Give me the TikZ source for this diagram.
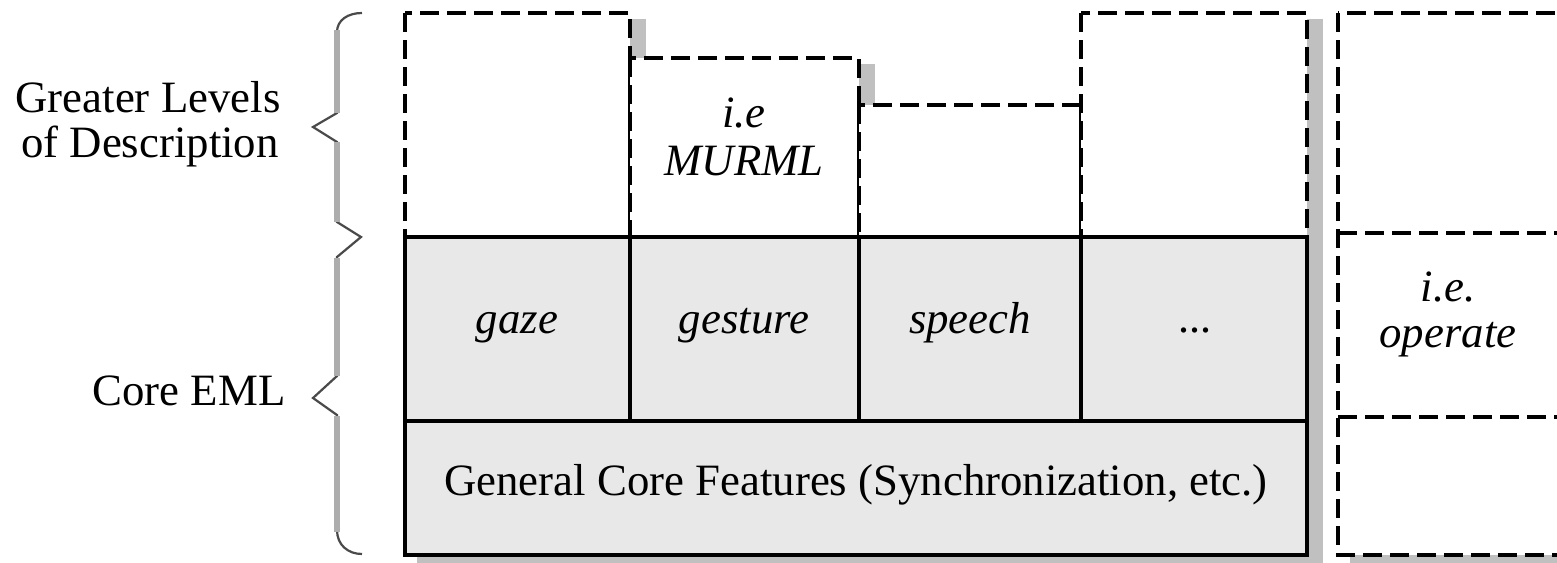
\documentclass[tikz,border=0pt]{standalone}
\usepackage{fontspec}
\setmainfont{Liberation Serif}
\definecolor{corefill}{HTML}{E8E8E8}
\definecolor{shadowgray}{HTML}{C0C0C0}
\definecolor{bracegray}{HTML}{ADADAD}
\definecolor{bracedark}{HTML}{4A4A4A}
\begin{document}
\begin{tikzpicture}[x=1pt,y=-1pt,
  dbox/.style={draw=black,line width=4pt,dash pattern=on 19pt off 8pt,fill=white},
  dline/.style={draw=black,line width=4pt,dash pattern=on 19pt off 8pt},
  sbox/.style={draw=black,line width=4pt,fill=corefill},
  sline/.style={draw=black,line width=4pt},
  shad/.style={fill=shadowgray},
  lbl/.style={font=\fontsize{44.8}{48}\selectfont,inner sep=0pt,anchor=base},
  ilbl/.style={lbl,font=\fontsize{44.8}{48}\selectfont\itshape},
  braceline/.style={draw=bracedark,line width=2.2pt,line join=miter},
  bracebar/.style={draw=bracegray,line width=6pt}
]
\useasboundingbox (0,0) rectangle (1557,562);
\clip (0,0) rectangle (1557,562);
\fill[white] (0,0) rectangle (1557,562);

% shadows
\begin{scope}[shift={(14,8)}]
  \fill[shad] (403,11) rectangle (632,239);
  \fill[shad] (628,56) rectangle (861,239);
  \fill[shad] (857,103) rectangle (1083,239);
  \fill[shad] (1079,11) rectangle (1309,239);
  \fill[shad] (403,235) rectangle (1309,557);
  \fill[shad] (1336,11) rectangle (1620,557);
\end{scope}

% upper dashed boxes
\draw[dbox] (405,13) rectangle (630,237);
\draw[dbox] (630,58) rectangle (859,237);
\draw[dbox] (859,105) rectangle (1081,237);
\draw[dbox] (1081,13) rectangle (1307,237);

% core
\draw[sbox] (405,237) rectangle (1307,421);
\draw[sline] (630,237) -- (630,421);
\draw[sline] (859,237) -- (859,421);
\draw[sline] (1081,237) -- (1081,421);
\draw[sbox] (405,421) rectangle (1307,555);

% right dashed box
\draw[dbox] (1338,13) rectangle (1620,555);
\draw[dline] (1338,233) -- (1620,233);
\draw[dline] (1338,417) -- (1620,417);

% braces
\draw[braceline] (362,13) .. controls (348,13) and (337,20) .. (337,32)
  -- (337,113) -- (313,127) -- (337,142) -- (337,222) -- (361,237)
  -- (337,257) -- (337,376) -- (313,398) -- (337,415) -- (337,530)
  .. controls (337,545) and (348,554) .. (362,554);
\draw[bracebar] (337,30) -- (337,113);
\draw[bracebar] (337,142) -- (337,222);
\draw[bracebar] (337,258) -- (337,376);
\draw[bracebar] (337,416) -- (337,532);

% labels
\node[lbl] (gl) at (148,112) {Greater Levels};
\node[lbl] (od) at (150,157) {of Description};
\node[lbl] (ce) at (189,405) {Core EML};
\node[ilbl] (gaze) at (517,333) {gaze};
\node[ilbl] (gest) at (744,333) {gesture};
\node[ilbl] (spch) at (970,333) {speech};
\node[ilbl] (dots) at (1196,332) {...};
\node[lbl] (gcf) at (856,495) {General Core Features (Synchronization, etc.)};
\node[ilbl] (ie1) at (744,127) {i.e};
\node[ilbl] (murml) at (744,175) {MURML};
\node[ilbl] (ie2) at (1448,301) {i.e.};
\node[ilbl] (oper) at (1448,347) {operate};
\end{tikzpicture}
\end{document}
